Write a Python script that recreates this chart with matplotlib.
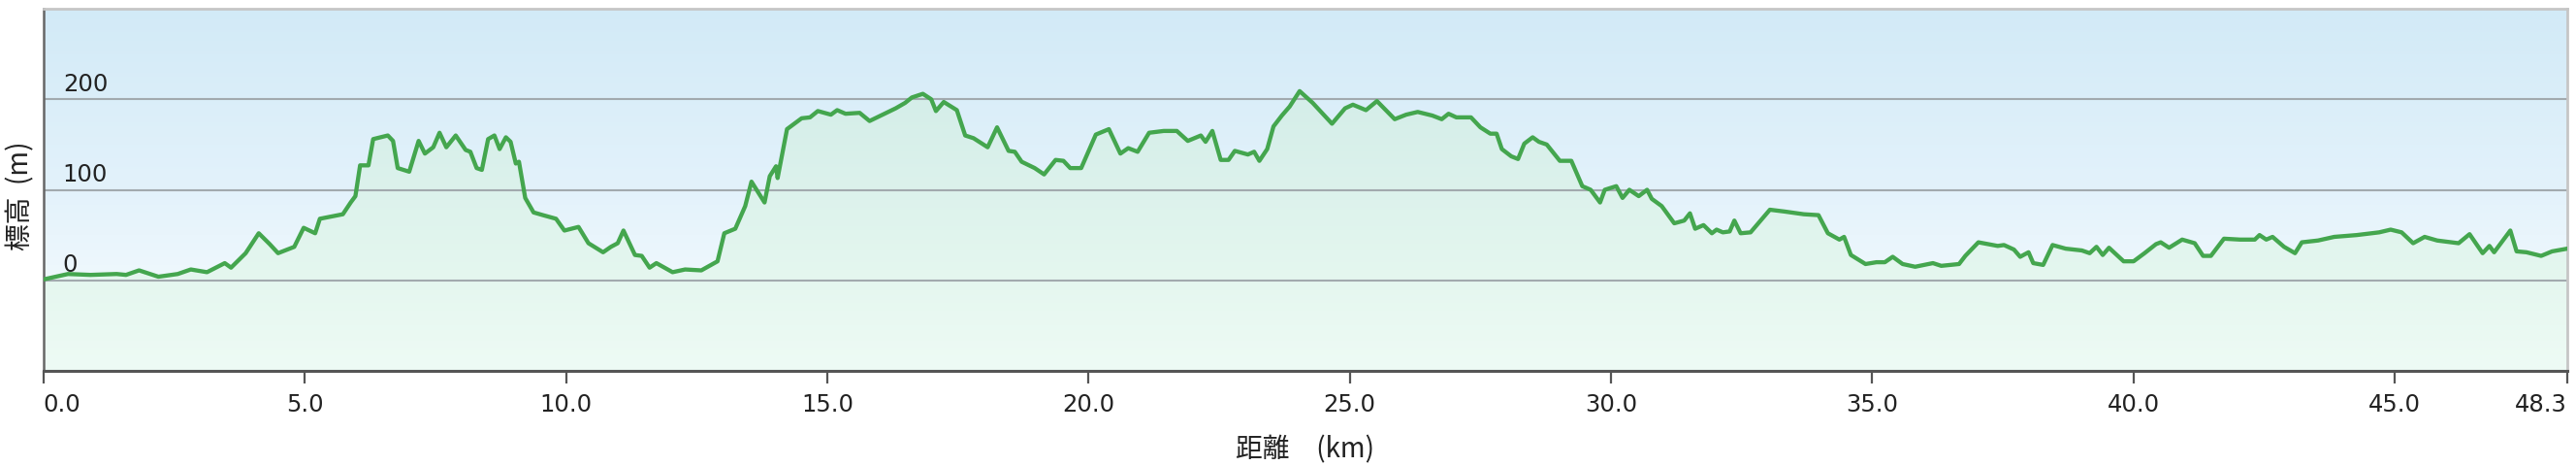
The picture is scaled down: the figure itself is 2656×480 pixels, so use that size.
import numpy as np
import matplotlib
matplotlib.use("Agg")
import matplotlib.pyplot as plt
from matplotlib.patches import Polygon
from matplotlib.transforms import blended_transform_factory, ScaledTranslation
from matplotlib.colors import to_rgb

# ---------------- data ----------------
distance_km = [
    0.00, 0.47, 0.90, 1.40, 1.58, 1.83, 2.20, 2.57, 2.82, 3.13, 3.47, 3.59, 3.87,
    4.12, 4.33, 4.49, 4.80, 4.98, 5.20, 5.29, 5.73, 5.88, 5.97, 6.06, 6.22, 6.31,
    6.59, 6.69, 6.78, 7.00, 7.18, 7.30, 7.46, 7.58, 7.71, 7.89, 8.08, 8.17, 8.29,
    8.39, 8.51, 8.63, 8.73, 8.85, 8.94, 9.04, 9.10, 9.22, 9.38, 9.56, 9.81, 9.97,
    10.24, 10.43, 10.71, 10.86, 10.99, 11.10, 11.32, 11.45, 11.60, 11.73, 12.04,
    12.28, 12.59, 12.90, 13.03, 13.24, 13.43, 13.55, 13.68, 13.80, 13.90, 14.02,
    14.05, 14.23, 14.51, 14.67, 14.82, 15.07, 15.19, 15.35, 15.62, 15.81, 16.06,
    16.31, 16.49, 16.62, 16.83, 16.99, 17.08, 17.23, 17.48, 17.64, 17.80, 18.07,
    18.25, 18.47, 18.59, 18.72, 18.97, 19.15, 19.37, 19.52, 19.65, 19.86, 20.14,
    20.39, 20.61, 20.76, 20.94, 21.16, 21.44, 21.69, 21.90, 22.15, 22.24, 22.37,
    22.53, 22.68, 22.80, 23.05, 23.17, 23.27, 23.42, 23.54, 23.70, 23.85, 24.04,
    24.29, 24.66, 24.91, 25.06, 25.31, 25.52, 25.86, 26.08, 26.30, 26.58, 26.76,
    26.89, 27.04, 27.32, 27.50, 27.69, 27.81, 27.91, 28.09, 28.22, 28.34, 28.50,
    28.62, 28.77, 29.02, 29.24, 29.45, 29.61, 29.79, 29.88, 30.10, 30.22, 30.35,
    30.53, 30.69, 30.78, 30.97, 31.21, 31.40, 31.51, 31.61, 31.77, 31.93, 32.02,
    32.14, 32.27, 32.36, 32.48, 32.67, 33.04, 33.32, 33.69, 33.97, 34.15, 34.37,
    34.46, 34.59, 34.87, 35.08, 35.24, 35.39, 35.58, 35.82, 36.16, 36.32, 36.66,
    36.78, 37.03, 37.40, 37.52, 37.71, 37.83, 37.99, 38.08, 38.27, 38.45, 38.70,
    39.01, 39.16, 39.29, 39.41, 39.53, 39.81, 40.00, 40.21, 40.43, 40.52, 40.68,
    40.93, 41.17, 41.33, 41.48, 41.73, 42.04, 42.32, 42.41, 42.54, 42.66, 42.88,
    43.09, 43.22, 43.53, 43.84, 44.27, 44.70, 44.92, 45.13, 45.35, 45.57, 45.81,
    46.22, 46.43, 46.68, 46.81, 46.90, 47.08, 47.21, 47.33, 47.52, 47.80, 48.01,
    48.30,
]
elevation_m = [
    1, 7, 6, 7, 6, 11, 4, 7, 12, 9, 19, 14, 30,
    52, 40, 30, 37, 58, 52, 68, 73, 86, 93, 127, 127, 156,
    160, 154, 124, 120, 154, 140, 147, 163, 147, 160, 144, 142, 124,
    122, 156, 160, 145, 158, 153, 129, 131, 91, 75, 72, 68, 55,
    59, 41, 31, 37, 41, 55, 28, 27, 14, 19, 9,
    12, 11, 21, 52, 57, 82, 109, 97, 86, 115, 126,
    113, 167, 179, 180, 187, 183, 188, 184, 185, 176, 183,
    190, 196, 202, 206, 200, 187, 197, 188, 160, 157, 147,
    169, 143, 142, 131, 124, 117, 133, 132, 124, 124, 161,
    167, 140, 146, 142, 163, 165, 165, 154, 160, 153, 165,
    133, 133, 143, 139, 142, 132, 145, 170, 182, 192, 209,
    196, 173, 190, 194, 188, 198, 178, 183, 186, 182, 178,
    184, 180, 180, 169, 162, 162, 145, 137, 134, 151, 158,
    153, 150, 132, 132, 104, 100, 86, 100, 104, 91, 100,
    93, 100, 90, 82, 63, 66, 74, 57, 61, 52, 56,
    53, 54, 66, 52, 53, 78, 76, 73, 72, 52, 45,
    48, 28, 18, 20, 20, 26, 18, 15, 19, 16, 18,
    27, 42, 38, 39, 34, 26, 31, 19, 17, 39, 35,
    33, 30, 37, 28, 36, 21, 21, 30, 40, 42, 36,
    45, 41, 27, 27, 46, 45, 45, 50, 45, 48, 37,
    30, 42, 44, 48, 50, 53, 56, 53, 41, 48, 44,
    41, 51, 30, 38, 31, 45, 55, 32, 31, 27, 32,
    35,
]

xtick_values = [0.0, 5.0, 10.0, 15.0, 20.0, 25.0, 30.0, 35.0, 40.0, 45.0, 48.3]
xtick_labels = ["0.0", "5.0", "10.0", "15.0", "20.0", "25.0", "30.0", "35.0", "40.0", "45.0", "48.3"]
ytick_values = [0, 100, 200]
ytick_labels = ["0", "100", "200"]
x_label = "距離\u3000(km)"
y_label = "標高  (m)"

# ---------------- figure ----------------
W, H = 2656, 480
fig = plt.figure(figsize=(W / 100, H / 100), dpi=100)
left_px, right_px, top_px, bottom_px = 44.8, 2647, 9, 382
ax = fig.add_axes([left_px / W, 1 - bottom_px / H,
                   (right_px - left_px) / W, (bottom_px - top_px) / H])

xmin, xmax = 0.0, 48.3
ymin, ymax = -100, 300

# vertical colour gradients (style only)
def vgrad(stops):
    levels = np.linspace(ymax, ymin, 400)
    ev = [s[0] for s in stops][::-1]
    cols = np.array([to_rgb(s[1]) for s in stops])[::-1]
    rgb = np.stack([np.interp(levels, ev, cols[:, k]) for k in range(3)], axis=-1)
    return rgb[:, None, :]

bg_img = ax.imshow(vgrad([(300, "#d2eaf7"), (100, "#e3f2fb"), (0, "#eff8fd"), (-100, "#f3fafd")]),
                   extent=[xmin, xmax, ymin, ymax], aspect="auto",
                   interpolation="bilinear", zorder=0)
fill_img = ax.imshow(vgrad([(300, "#cbe8e6"), (200, "#d5eee9"), (100, "#dcf2ec"),
                            (0, "#e5f7ef"), (-100, "#eefbf5")]),
                     extent=[xmin, xmax, ymin, ymax], aspect="auto",
                     interpolation="bilinear", zorder=0.1)
verts = list(zip(distance_km, elevation_m)) + [(distance_km[-1], ymin), (distance_km[0], ymin)]
clip_poly = Polygon(verts, closed=True, facecolor="none", edgecolor="none",
                    transform=ax.transData)
ax.add_patch(clip_poly)
fill_img.set_clip_path(clip_poly)

ax.plot(distance_km, elevation_m, color="#44a64e", lw=3.1, solid_joinstyle="round",
        zorder=3)

ax.set_xlim(xmin, xmax)
ax.set_ylim(ymin, ymax)

# grid
ax.set_yticks(ytick_values)
ax.set_axisbelow(True)
ax.yaxis.grid(True, color="#a2aaae", lw=1.5)
ax.tick_params(axis="y", length=0, labelleft=False)

# x ticks
ax.set_xticks(xtick_values)
ax.set_xticklabels(xtick_labels)
ax.tick_params(axis="x", direction="out", length=9.4, width=1.6, color="#555555",
               pad=7, labelsize=17.5, labelcolor="#222222")
xtl = ax.get_xticklabels()
xtl[0].set_ha("left")
xtl[-1].set_ha("right")

# y tick labels inside the plot, above each grid line
tr = blended_transform_factory(ax.transAxes, ax.transData) + \
    ScaledTranslation(20 / 100, 8.5 / 100, fig.dpi_scale_trans)
for v, lab in zip(ytick_values, ytick_labels):
    ax.text(0, v, lab, transform=tr, ha="left", va="baseline",
            fontsize=17.5, color="#222222", zorder=4)

# spines
ax.spines["bottom"].set_color("#555555")
ax.spines["bottom"].set_linewidth(2.2)
ax.spines["left"].set_color("#666666")
ax.spines["left"].set_linewidth(1.8)
for s in ("top", "right"):
    ax.spines[s].set_color("#c6c6c6")
    ax.spines[s].set_linewidth(2.0)

cjk = ["Noto Sans CJK JP", "DejaVu Sans"]
ax.set_xlabel(x_label, family=cjk, fontsize=20, color="#222222", va="center")
ax.xaxis.set_label_coords(0.5, -(463 - bottom_px) / (bottom_px - top_px))
ax.set_ylabel(y_label, family=cjk, fontsize=20, color="#222222", va="center")
ax.yaxis.set_label_coords((21 - left_px) / (right_px - left_px),
                          (bottom_px - 202) / (bottom_px - top_px))

fig.savefig("out.png", dpi=100, facecolor="white")
